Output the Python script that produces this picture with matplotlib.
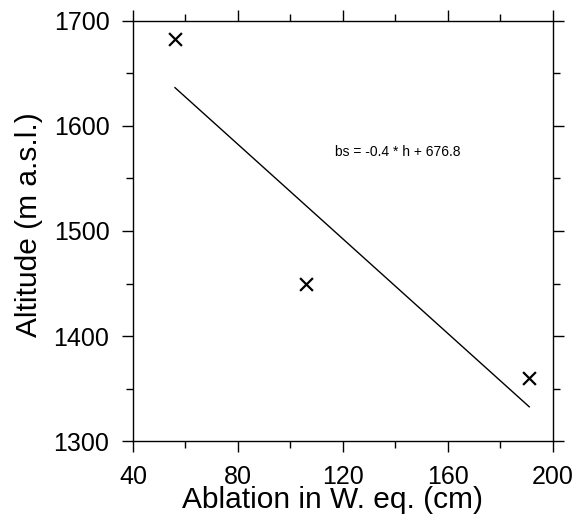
import numpy as np
import matplotlib
matplotlib.use("Agg")
from matplotlib import pyplot as plt
from matplotlib.ticker import MultipleLocator

plt.rcParams['font.family'] = ['Liberation Sans', 'DejaVu Sans']

# ablation (cm w.e.) against altitude of the stakes
ablation = [56, 106, 191]
altitude = [1683, 1450, 1360]
equation = "bs = -0.4 * h + 676.8"

fig = plt.figure(figsize=(5.82, 5.22), dpi=100)
ax = fig.add_axes([0.2285, 0.155, 0.7215, 0.805])

ax.scatter(ablation, altitude, marker='x', s=85, color='black', linewidths=1.6, zorder=3)

# least squares fit of altitude on ablation, drawn over the data range
slope, intercept = np.polyfit(ablation, altitude, 1)
xs = np.array([min(ablation), max(ablation)])
ax.plot(xs, slope * xs + intercept, color='black', linewidth=1)

ax.text(117, 1571.5, equation, fontsize=10, va='baseline', ha='left')

ax.set_xlim(40, 200)
ax.set_ylim(1300, 1700)
ax.xaxis.set_major_locator(MultipleLocator(40))
ax.xaxis.set_minor_locator(MultipleLocator(20))
ax.yaxis.set_major_locator(MultipleLocator(100))
ax.yaxis.set_minor_locator(MultipleLocator(50))

ax.tick_params(which='both', direction='out', top=True, right=True, labelsize=18, width=1)
ax.tick_params(which='major', length=8)
ax.tick_params(which='minor', length=5)
ax.tick_params(axis='y', pad=9)
ax.tick_params(axis='x', pad=9)
for s in ax.spines.values():
    s.set_linewidth(1)

ax.set_xlabel("Ablation in W. eq. (cm)", fontsize=21.5)
ax.set_ylabel("Altitude (m a.s.l.)", fontsize=21.5)
ax.xaxis.set_label_coords(0.475, -0.107)
ax.yaxis.set_label_coords(-0.214, 0.5155)

fig.savefig("out.png", dpi=100)
